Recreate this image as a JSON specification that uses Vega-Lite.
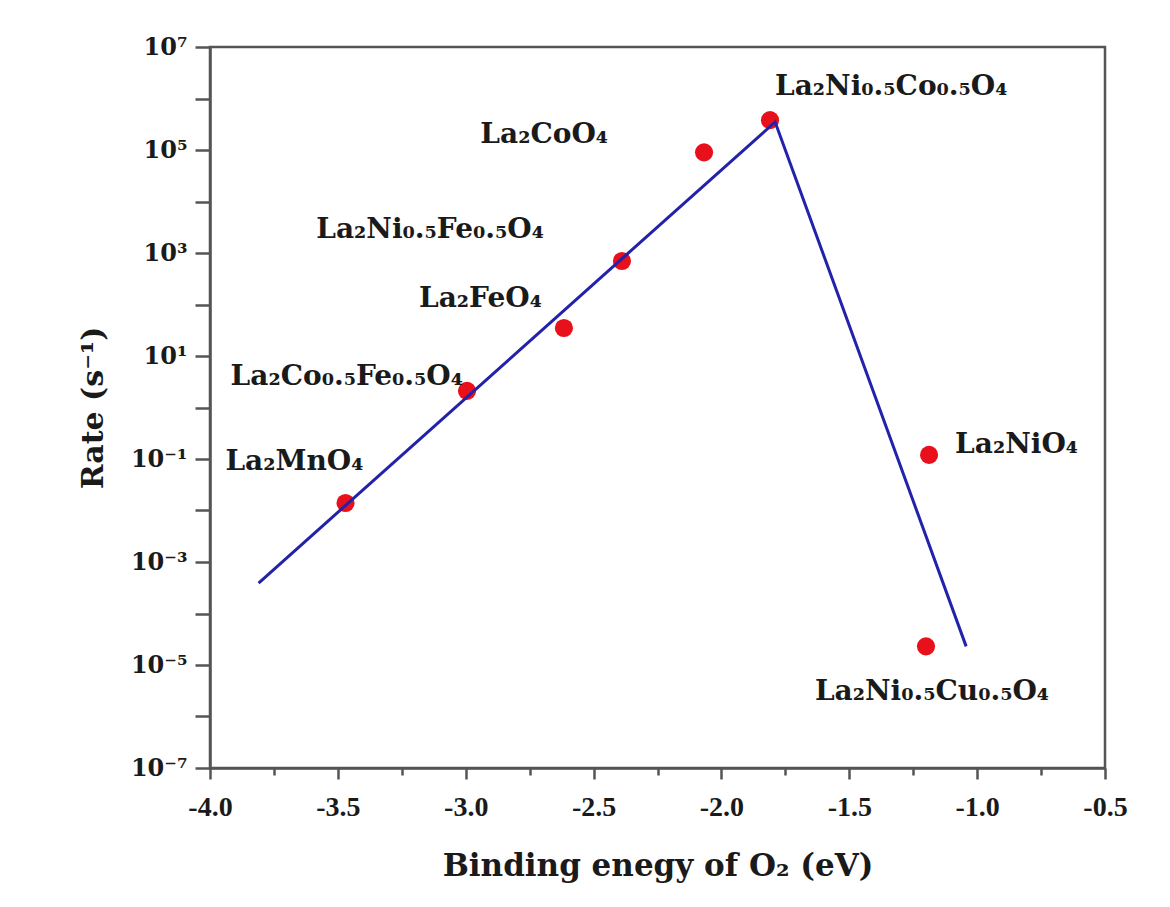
{
  "$schema": "https://vega.github.io/schema/vega-lite/v6.json",
  "width": 895,
  "height": 721,
  "autosize": {"type": "none"},
  "padding": {"left": 210, "top": 47, "right": 65, "bottom": 139},
  "background": "white",
  "config": {
    "view": {"stroke": "#555", "strokeWidth": 2.5},
    "font": "DejaVu Serif",
    "axis": {
      "labelFont": "Liberation Serif", "labelFontWeight": "bold", "labelColor": "#1a1a1a",
      "titleFont": "DejaVu Serif", "titleFontWeight": "bold", "titleColor": "#1a1a1a",
      "domainColor": "#555", "domainWidth": 2.5, "tickColor": "#555", "tickWidth": 2.5,
      "grid": false
    },
    "text": {"font": "DejaVu Serif", "fontWeight": "bold", "fontSize": 28, "color": "#1a1a1a"}
  },
  "datasets": {
    "pts": [
      {"name": "La2MnO4", "x": -3.47, "y": 0.014},
      {"name": "La2Co0.5Fe0.5O4", "x": -2.995, "y": 2.1},
      {"name": "La2FeO4", "x": -2.616, "y": 35},
      {"name": "La2Ni0.5Fe0.5O4", "x": -2.389, "y": 700},
      {"name": "La2CoO4", "x": -2.068, "y": 90000},
      {"name": "La2Ni0.5Co0.5O4", "x": -1.81, "y": 380000},
      {"name": "La2NiO4", "x": -1.188, "y": 0.12},
      {"name": "La2Ni0.5Cu0.5O4", "x": -1.2, "y": 0.000023}
    ],
    "fit": [
      {"x": -3.81, "y": 0.00039},
      {"x": -1.79, "y": 350000},
      {"x": -1.043, "y": 0.000023}
    ]
  },
  "resolve": {"axis": {"x": "independent"}},
  "layer": [
    {
      "data": {"name": "pts"},
      "mark": {"type": "circle", "size": 330, "color": "#e8101a", "opacity": 1},
      "encoding": {
        "x": {"field": "x", "type": "quantitative",
          "scale": {"domain": [-4, -0.5], "nice": false, "zero": false},
          "axis": {"orient": "bottom", "values": [-4, -3.5, -3, -2.5, -2, -1.5, -1, -0.5], "format": ".1f",
            "labelExpr": "replace(datum.label, '−', '-')",
            "tickSize": 11, "labelFontSize": 28, "labelPadding": 14, "labelFlush": false,
            "title": "Binding enegy of O₂ (eV)", "titleFontSize": 31, "titlePadding": 30}},
        "y": {"field": "y", "type": "quantitative",
          "scale": {"type": "log", "domain": [1e-7, 1e7], "nice": false},
          "axis": {"values": [1e-7, 1e-6, 1e-5, 1e-4, 1e-3, 1e-2, 1e-1, 1, 10, 100, 1000, 10000, 100000, 1000000, 10000000],
            "labelExpr": "['10⁻⁷','','10⁻⁵','','10⁻³','','10⁻¹','','10¹','','10³','','10⁵','','10⁷'][round(log(datum.value)/LN10)+7]",
            "labelFont": "DejaVu Serif",
            "tickSize": 15, "labelFontSize": 24, "labelPadding": 8, "labelFlush": false,
            "title": "Rate (s⁻¹)", "titleFontSize": 30, "titlePadding": 22}}
      }
    },
    {
      "data": {"name": "fit"},
      "mark": {"type": "line", "color": "#2222aa", "strokeWidth": 3},
      "encoding": {
        "x": {"field": "x", "type": "quantitative",
          "axis": {"orient": "bottom", "values": [-3.75, -3.25, -2.75, -2.25, -1.75, -1.25, -0.75],
            "tickSize": 7, "labels": false, "domain": false, "title": null}},
        "y": {"field": "y", "type": "quantitative"}
      }
    },
    {
      "data": {"name": "pts"},
      "transform": [{"filter": "datum.name == 'La2MnO4'"}],
      "mark": {"type": "text", "align": "right", "baseline": "middle", "dx": 18, "dy": -41},
      "encoding": {"x": {"field": "x", "type": "quantitative", "axis": null}, "y": {"field": "y", "type": "quantitative"}, "text": {"value": "La₂MnO₄"}}
    },
    {
      "data": {"name": "pts"},
      "transform": [{"filter": "datum.name == 'La2Co0.5Fe0.5O4'"}],
      "mark": {"type": "text", "align": "right", "baseline": "middle", "dx": -4, "dy": -14},
      "encoding": {"x": {"field": "x", "type": "quantitative", "axis": null}, "y": {"field": "y", "type": "quantitative"}, "text": {"value": "La₂Co₀.₅Fe₀.₅O₄"}}
    },
    {
      "data": {"name": "pts"},
      "transform": [{"filter": "datum.name == 'La2FeO4'"}],
      "mark": {"type": "text", "align": "right", "baseline": "middle", "dx": -22, "dy": -29},
      "encoding": {"x": {"field": "x", "type": "quantitative", "axis": null}, "y": {"field": "y", "type": "quantitative"}, "text": {"value": "La₂FeO₄"}}
    },
    {
      "data": {"name": "pts"},
      "transform": [{"filter": "datum.name == 'La2Ni0.5Fe0.5O4'"}],
      "mark": {"type": "text", "align": "right", "baseline": "middle", "dx": -78, "dy": -31},
      "encoding": {"x": {"field": "x", "type": "quantitative", "axis": null}, "y": {"field": "y", "type": "quantitative"}, "text": {"value": "La₂Ni₀.₅Fe₀.₅O₄"}}
    },
    {
      "data": {"name": "pts"},
      "transform": [{"filter": "datum.name == 'La2CoO4'"}],
      "mark": {"type": "text", "align": "right", "baseline": "middle", "dx": -96, "dy": -17},
      "encoding": {"x": {"field": "x", "type": "quantitative", "axis": null}, "y": {"field": "y", "type": "quantitative"}, "text": {"value": "La₂CoO₄"}}
    },
    {
      "data": {"name": "pts"},
      "transform": [{"filter": "datum.name == 'La2Ni0.5Co0.5O4'"}],
      "mark": {"type": "text", "align": "left", "baseline": "middle", "dx": 5, "dy": -33},
      "encoding": {"x": {"field": "x", "type": "quantitative", "axis": null}, "y": {"field": "y", "type": "quantitative"}, "text": {"value": "La₂Ni₀.₅Co₀.₅O₄"}}
    },
    {
      "data": {"name": "pts"},
      "transform": [{"filter": "datum.name == 'La2NiO4'"}],
      "mark": {"type": "text", "align": "left", "baseline": "middle", "dx": 26, "dy": -10},
      "encoding": {"x": {"field": "x", "type": "quantitative", "axis": null}, "y": {"field": "y", "type": "quantitative"}, "text": {"value": "La₂NiO₄"}}
    },
    {
      "data": {"name": "pts"},
      "transform": [{"filter": "datum.name == 'La2Ni0.5Cu0.5O4'"}],
      "mark": {"type": "text", "align": "center", "baseline": "middle", "dx": 6, "dy": 46},
      "encoding": {"x": {"field": "x", "type": "quantitative", "axis": null}, "y": {"field": "y", "type": "quantitative"}, "text": {"value": "La₂Ni₀.₅Cu₀.₅O₄"}}
    }
  ]
}
